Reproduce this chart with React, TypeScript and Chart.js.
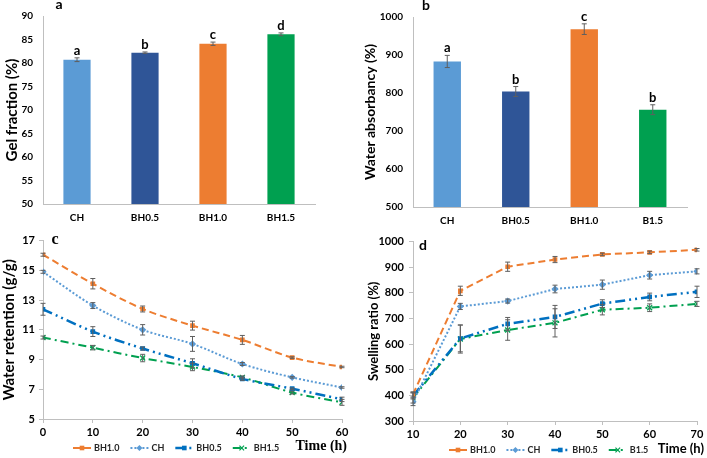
import React, { useEffect, useRef } from 'react';
import { Chart, registerables } from 'chart.js';

Chart.register(...registerables);

// ---------- Data ----------
// (a) Gel fraction
const gelCategories = ['CH', 'BH0.5', 'BH1.0', 'BH1.5'];
const gelValues = [80.7, 82.2, 84.1, 86.1];
const gelErrors = [0.4, 0.15, 0.35, 0.3];
const gelLetters = ['a', 'b', 'c', 'd'];

// (b) Water absorbancy
const absCategories = ['CH', 'BH0.5', 'BH1.0', 'B1.5'];
const absValues = [883, 804, 968, 756];
const absErrors = [16, 13, 14, 13];
const absLetters = ['a', 'b', 'c', 'b'];

const barColors = ['#5B9BD5', '#2F5597', '#ED7D31', '#00A050'];

// (c) Water retention (g/g) vs time
const retTimes = [0, 10, 20, 30, 40, 50, 60];
const retBH10 = [16.05, 14.1, 12.4, 11.28, 10.32, 9.13, 8.5];
const retBH10Err = [0.1, 0.35, 0.2, 0.3, 0.3, 0.05, 0.05];
const retCH = [14.9, 12.63, 11.0, 10.05, 8.7, 7.8, 7.12];
const retCHErr = [0.1, 0.2, 0.35, 0.5, 0.1, 0.05, 0.05];
const retBH05 = [12.38, 10.88, 9.74, 8.75, 7.7, 7.04, 6.32];
const retBH05Err = [0.4, 0.33, 0.1, 0.3, 0.1, 0.05, 0.15];
const retBH15 = [10.48, 9.8, 9.1, 8.5, 7.8, 6.78, 6.12];
const retBH15Err = [0.1, 0.15, 0.25, 0.25, 0.1, 0.1, 0.2];

// (d) Swelling ratio (%) vs time
const swTimes = [10, 20, 30, 40, 50, 60, 70];
const swBH10 = [404, 808, 902, 930, 950, 958, 968];
const swBH10Err = [10, 18, 18, 12, 5, 5, 5];
const swCH = [375, 747, 768, 815, 832, 869, 884];
const swCHErr = [15, 12, 8, 15, 18, 15, 10];
const swBH05 = [398, 622, 679, 706, 758, 784, 804];
const swBH05Err = [12, 52, 25, 45, 15, 15, 22];
const swB15 = [390, 620, 655, 683, 734, 742, 757];
const swB15Err = [20, 55, 40, 55, 20, 15, 10];

// ---------- Helpers ----------
const SANS = 'Lato';
const SERIF = '"Liberation Serif"';
const AXIS_GRAY = '#BFBFBF';
const ERR_GRAY = '#5F5F5F';

const plainTick = (v: any) => String(v);

function drawMarker(ctx: CanvasRenderingContext2D, style: string, x: number, y: number, r: number, color: string) {
  ctx.save();
  ctx.fillStyle = color;
  ctx.strokeStyle = color;
  ctx.setLineDash([]);
  if (style === 'rect') {
    ctx.fillRect(x - r, y - r, 2 * r, 2 * r);
  } else if (style === 'rectRot') {
    ctx.beginPath();
    ctx.moveTo(x, y - r * 1.3);
    ctx.lineTo(x + r * 1.3, y);
    ctx.lineTo(x, y + r * 1.3);
    ctx.lineTo(x - r * 1.3, y);
    ctx.closePath();
    ctx.fill();
  } else {
    ctx.lineWidth = 1.2;
    ctx.beginPath();
    ctx.moveTo(x - r, y - r);
    ctx.lineTo(x + r, y + r);
    ctx.moveTo(x + r, y - r);
    ctx.lineTo(x - r, y + r);
    ctx.stroke();
  }
  ctx.restore();
}

const errorBarPlugin = {
  id: 'errorBars',
  afterDatasetsDraw(chart: any) {
    const ctx = chart.ctx;
    const yScale = chart.scales.y;
    chart.data.datasets.forEach((ds: any, di: number) => {
      const errs: number[] | undefined = ds.errors;
      if (!errs) return;
      const meta = chart.getDatasetMeta(di);
      meta.data.forEach((el: any, i: number) => {
        const raw = ds.data[i];
        const v = typeof raw === 'number' ? raw : raw.y;
        const e = errs[i];
        if (!e) return;
        const x = el.x;
        const yt = yScale.getPixelForValue(v + e);
        const yb = yScale.getPixelForValue(v - e);
        ctx.save();
        ctx.strokeStyle = ERR_GRAY;
        ctx.lineWidth = 1;
        ctx.setLineDash([]);
        ctx.beginPath();
        ctx.moveTo(x, yt);
        ctx.lineTo(x, yb);
        ctx.moveTo(x - 2.5, yt);
        ctx.lineTo(x + 2.5, yt);
        ctx.moveTo(x - 2.5, yb);
        ctx.lineTo(x + 2.5, yb);
        ctx.stroke();
        ctx.restore();
      });
    });
  },
};

const barLetterPlugin = {
  id: 'barLetters',
  afterDatasetsDraw(chart: any) {
    const ctx = chart.ctx;
    const yScale = chart.scales.y;
    chart.data.datasets.forEach((ds: any, di: number) => {
      const letters: string[] | undefined = ds.letters;
      if (!letters) return;
      const meta = chart.getDatasetMeta(di);
      meta.data.forEach((el: any, i: number) => {
        const top = yScale.getPixelForValue(ds.data[i] + (ds.errors ? ds.errors[i] : 0));
        ctx.save();
        ctx.font = `bold 13px ${SANS}`;
        ctx.fillStyle = '#000';
        ctx.textAlign = 'center';
        ctx.textBaseline = 'alphabetic';
        ctx.fillText(letters[i], el.x, top - 3);
        ctx.restore();
      });
    });
  },
};

type TextItem = { text: string; x: number; y: number; font: string; align?: CanvasTextAlign };

function textPlugin(items: TextItem[]) {
  return {
    id: 'extraText',
    afterDraw(chart: any) {
      const ctx = chart.ctx;
      ctx.save();
      ctx.fillStyle = '#000';
      ctx.textBaseline = 'alphabetic';
      items.forEach((it) => {
        ctx.font = it.font;
        ctx.textAlign = it.align || 'center';
        ctx.fillText(it.text, it.x, it.y);
      });
      ctx.restore();
    },
  };
}

function lineLegendPlugin(startX: number, y: number, gap: number) {
  return {
    id: 'lineLegend',
    afterDraw(chart: any) {
      const ctx = chart.ctx;
      ctx.save();
      ctx.font = `bold 9px ${SANS}`;
      ctx.textBaseline = 'middle';
      ctx.textAlign = 'left';
      let x = startX;
      chart.data.datasets.forEach((ds: any) => {
        ctx.strokeStyle = ds.borderColor;
        ctx.lineWidth = ds.borderWidth;
        ctx.setLineDash(ds.borderDash || []);
        ctx.beginPath();
        ctx.moveTo(x, y);
        ctx.lineTo(x + 18, y);
        ctx.stroke();
        ctx.setLineDash([]);
        drawMarker(ctx, ds.pointStyle, x + 9, y, 2.3, ds.borderColor);
        ctx.fillStyle = '#262626';
        ctx.fillText(ds.label, x + 21, y + 0.5);
        x += 21 + ctx.measureText(ds.label).width + gap;
      });
      ctx.restore();
    },
  };
}

// ---------- Chart configs ----------
function barConfig(opts: {
  labels: string[];
  values: number[];
  errors: number[];
  letters: string[];
  min: number;
  max: number;
  step: number;
  title: string;
  titleSize: number;
  titlePad: number;
  yWidth: number;
  xHeight: number;
  padTop: number;
  padRight: number;
  texts: TextItem[];
}): any {
  return {
    type: 'bar',
    data: {
      labels: opts.labels,
      datasets: [
        {
          data: opts.values,
          backgroundColor: barColors,
          borderWidth: 0,
          categoryPercentage: 1,
          barPercentage: 0.4,
          errors: opts.errors,
          letters: opts.letters,
        },
      ],
    },
    options: {
      responsive: false,
      animation: false,
      devicePixelRatio: 1,
      layout: { padding: { top: opts.padTop, right: opts.padRight, left: 0, bottom: 0 } },
      plugins: { legend: { display: false }, tooltip: { enabled: false } },
      scales: {
        x: {
          grid: { display: false, drawTicks: false, tickLength: 0 },
          border: { display: true, color: AXIS_GRAY, width: 1 },
          ticks: { font: { family: SANS, weight: 'bold', size: 10 }, color: '#000', padding: 8 },
          afterFit: (s: any) => {
            s.height = opts.xHeight;
          },
        },
        y: {
          min: opts.min,
          max: opts.max,
          grid: { display: false, drawTicks: false, tickLength: 0 },
          border: { display: true, color: AXIS_GRAY, width: 1 },
          ticks: {
            stepSize: opts.step,
            callback: plainTick,
            font: { family: SANS, weight: 'bold', size: 10 },
            color: '#000',
            padding: 10,
          },
          title: {
            display: true,
            text: opts.title,
            color: '#000',
            font: { family: SANS, weight: 'bold', size: opts.titleSize },
            padding: { top: opts.titlePad, bottom: 0 },
          },
          afterFit: (s: any) => {
            s.width = opts.yWidth;
          },
        },
      },
    },
    plugins: [errorBarPlugin, barLetterPlugin, textPlugin(opts.texts)],
  };
}

function lineDataset(label: string, times: number[], values: number[], errors: number[], color: string, dash: number[], marker: string, width: number, radius: number, tension: number) {
  return {
    label,
    data: times.map((t, i) => ({ x: t, y: values[i] })),
    errors,
    borderColor: color,
    backgroundColor: color,
    borderWidth: width,
    borderDash: dash,
    pointStyle: marker,
    pointRadius: radius,
    pointBackgroundColor: color,
    pointBorderColor: color,
    pointBorderWidth: marker === 'crossRot' ? 1.3 : 0,
    tension,
    fill: false,
  };
}

function lineConfig(opts: {
  datasets: any[];
  xMin: number;
  xMax: number;
  yMin: number;
  yMax: number;
  yStep: number;
  title: string;
  titleSize: number;
  titlePad: number;
  yWidth: number;
  xHeight: number;
  padTop: number;
  padRight: number;
  yTickPad: number;
  xTickPad: number;
  texts: TextItem[];
  legendX: number;
  legendY: number;
}): any {
  return {
    type: 'line',
    data: { datasets: opts.datasets },
    options: {
      responsive: false,
      animation: false,
      devicePixelRatio: 1,
      layout: { padding: { top: opts.padTop, right: opts.padRight, left: 0, bottom: 0 } },
      plugins: { legend: { display: false }, tooltip: { enabled: false } },
      scales: {
        x: {
          type: 'linear',
          min: opts.xMin,
          max: opts.xMax,
          grid: { display: true, drawOnChartArea: false, drawTicks: true, tickLength: 4, color: AXIS_GRAY },
          border: { display: true, color: AXIS_GRAY, width: 1 },
          ticks: {
            stepSize: 10,
            callback: plainTick,
            font: { family: SANS, weight: 'bold', size: 11 },
            color: '#000',
            padding: opts.xTickPad,
          },
          afterFit: (s: any) => {
            s.height = opts.xHeight;
          },
        },
        y: {
          min: opts.yMin,
          max: opts.yMax,
          grid: { display: true, drawOnChartArea: false, drawTicks: true, tickLength: 4, color: AXIS_GRAY },
          border: { display: true, color: AXIS_GRAY, width: 1 },
          ticks: {
            stepSize: opts.yStep,
            callback: plainTick,
            font: { family: SANS, weight: 'bold', size: 11 },
            color: '#000',
            padding: opts.yTickPad,
          },
          title: {
            display: true,
            text: opts.title,
            color: '#000',
            font: { family: SANS, weight: 'bold', size: opts.titleSize },
            padding: { top: opts.titlePad, bottom: 0 },
          },
          afterFit: (s: any) => {
            s.width = opts.yWidth;
          },
        },
      },
    },
    plugins: [errorBarPlugin, textPlugin(opts.texts), lineLegendPlugin(opts.legendX, opts.legendY, 11)],
  };
}

const C_ORANGE = '#ED7D31';
const C_LIGHT = '#5B9BD5';
const C_BLUE = '#0070C0';
const C_GREEN = '#00A050';

const DASH_A = [7, 4];
const DASH_B = [2, 2];
const DASH_C = [10, 4, 2, 4, 2, 4];
const DASH_D = [8, 4, 2, 4];

const configs: { left: number; top: number; width: number; height: number; make: () => any }[] = [
  {
    left: 0,
    top: 0,
    width: 354,
    height: 230,
    make: () =>
      barConfig({
        labels: gelCategories,
        values: gelValues,
        errors: gelErrors,
        letters: gelLetters,
        min: 50,
        max: 90,
        step: 5,
        title: 'Gel fraction (%)',
        titleSize: 15,
        titlePad: 3,
        yWidth: 43,
        xHeight: 26,
        padTop: 12,
        padRight: 39,
        texts: [{ text: 'a', x: 59, y: 9, font: `bold 14px ${SANS}` }],
      }),
  },
  {
    left: 354,
    top: 0,
    width: 353,
    height: 230,
    make: () =>
      barConfig({
        labels: absCategories,
        values: absValues,
        errors: absErrors,
        letters: absLetters,
        min: 500,
        max: 1000,
        step: 100,
        title: 'Water absorbancy (%)',
        titleSize: 14,
        titlePad: 8,
        yWidth: 59,
        xHeight: 23,
        padTop: 17,
        padRight: 20,
        texts: [{ text: 'b', x: 72, y: 10, font: `bold 14px ${SANS}` }],
      }),
  },
  {
    left: 0,
    top: 230,
    width: 354,
    height: 228,
    make: () =>
      lineConfig({
        datasets: [
          lineDataset('BH1.0', retTimes, retBH10, retBH10Err, C_ORANGE, DASH_A, 'rect', 2, 3.3, 0.3),
          lineDataset('CH', retTimes, retCH, retCHErr, C_LIGHT, DASH_B, 'rectRot', 2, 3.6, 0.3),
          lineDataset('BH0.5', retTimes, retBH05, retBH05Err, C_BLUE, DASH_C, 'rect', 2.5, 3.3, 0.3),
          lineDataset('BH1.5', retTimes, retBH15, retBH15Err, C_GREEN, DASH_D, 'crossRot', 2, 3.5, 0.3),
        ],
        xMin: 0,
        xMax: 60,
        yMin: 5,
        yMax: 17,
        yStep: 2,
        title: 'Water retention (g/g)',
        titleSize: 15,
        titlePad: 0,
        yWidth: 43,
        xHeight: 39,
        padTop: 8,
        padRight: 12,
        yTickPad: 4,
        xTickPad: 3,
        texts: [
          { text: 'c', x: 55, y: 14, font: `bold 16px ${SERIF}` },
          { text: 'Time (h)', x: 347, y: 220, font: `bold 14px ${SERIF}`, align: 'right' },
        ],
        legendX: 73,
        legendY: 218,
      }),
  },
  {
    left: 354,
    top: 230,
    width: 353,
    height: 228,
    make: () =>
      lineConfig({
        datasets: [
          lineDataset('BH1.0', swTimes, swBH10, swBH10Err, C_ORANGE, DASH_A, 'rect', 2, 3.3, 0),
          lineDataset('CH', swTimes, swCH, swCHErr, C_LIGHT, DASH_B, 'rectRot', 2, 3.6, 0),
          lineDataset('BH0.5', swTimes, swBH05, swBH05Err, C_BLUE, DASH_C, 'rect', 2.5, 3.3, 0),
          lineDataset('B1.5', swTimes, swB15, swB15Err, C_GREEN, DASH_D, 'crossRot', 2, 3.5, 0),
        ],
        xMin: 10,
        xMax: 70,
        yMin: 300,
        yMax: 1000,
        yStep: 100,
        title: 'Swelling ratio (%)',
        titleSize: 13,
        titlePad: 12,
        yWidth: 59,
        xHeight: 37,
        padTop: 7,
        padRight: 10,
        yTickPad: 5,
        xTickPad: 3,
        texts: [
          { text: 'd', x: 69, y: 20, font: `bold 14px ${SANS}` },
          { text: 'Time (h)', x: 350, y: 223, font: `bold 13px ${SANS}`, align: 'right' },
        ],
        legendX: 95,
        legendY: 220,
      }),
  },
];

function ChartBox(props: { left: number; top: number; width: number; height: number; make: () => any }) {
  const ref = useRef<HTMLCanvasElement>(null);
  useEffect(() => {
    const chart = new Chart(ref.current as HTMLCanvasElement, props.make());
    return () => chart.destroy();
  }, []);
  return (
    <canvas
      ref={ref}
      width={props.width}
      height={props.height}
      style={{ position: 'absolute', left: props.left, top: props.top, width: props.width, height: props.height }}
    />
  );
}

export default function App() {
  return (
    <div style={{ position: 'fixed', left: 0, top: 0, width: 707, height: 458, background: '#fff', overflow: 'hidden' }}>
      {configs.map((c, i) => (
        <ChartBox key={i} {...c} />
      ))}
    </div>
  );
}
